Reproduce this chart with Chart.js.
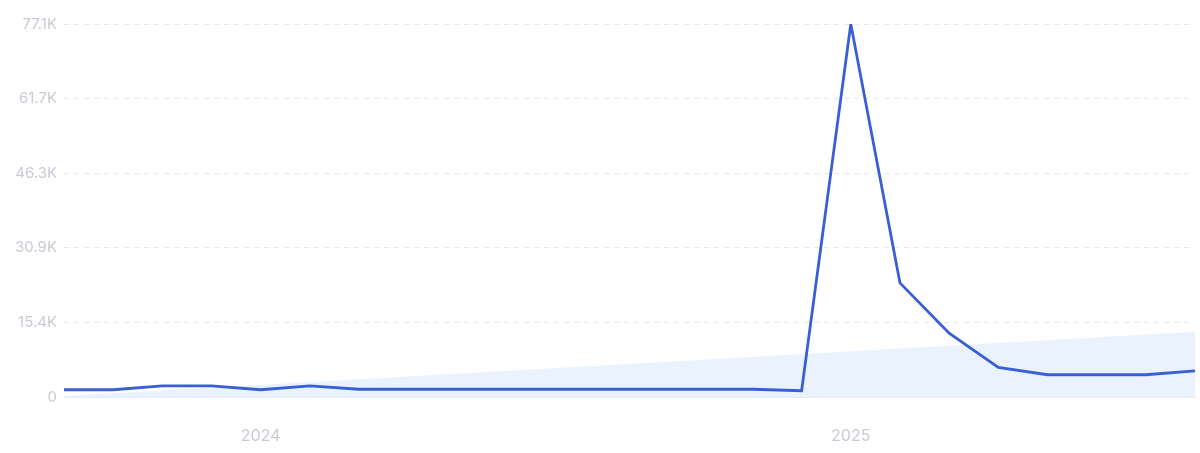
<!DOCTYPE html>
<html>
<head>
<meta charset="utf-8">
<script src="https://cdn.jsdelivr.net/npm/chart.js@4/dist/chart.umd.min.js"></script>
<style>
  html, body { margin: 0; padding: 0; background: #fff; }
  #wrap { width: 1200px; height: 453px; position: relative; }
</style>
</head>
<body>
<div id="wrap"><canvas id="trendChart"></canvas></div>
<script>
// monthly points, Sep 2023 -> Aug 2025
const months = ['2023-09','2023-10','2023-11','2023-12',
  '2024-01','2024-02','2024-03','2024-04','2024-05','2024-06','2024-07','2024-08','2024-09','2024-10','2024-11','2024-12',
  '2025-01','2025-02','2025-03','2025-04','2025-05','2025-06','2025-07','2025-08']
const searches = [1500, 1500, 2300, 2300, 1500, 2300, 1600, 1600, 1600, 1600, 1600, 1600, 1600, 1600, 1600, 1300,
  77140, 23600, 13200, 6100, 4600, 4600, 4600, 5400]
// trend band: only its two ends are read, the line spans the gap
const trendStart = 200
const trendEnd = 13500
const yTickLabels = ['0', '15.4K', '30.9K', '46.3K', '61.7K', '77.1K']
const yMax = 77140

const trend = months.map((m, i) => i === 0 ? trendStart : (i === months.length - 1 ? trendEnd : null))

const data = {
  labels: months,
  datasets: [{
    label: 'Searches',
    data: searches,
    borderColor: '#3a5fd5',
    borderWidth: 2.8,
    pointRadius: 0,
    tension: 0,
    fill: false
  }, {
    label: 'Trend',
    data: trend,
    spanGaps: true,
    borderWidth: 0,
    pointRadius: 0,
    backgroundColor: 'rgba(214, 231, 251, 0.5)',
    fill: 'origin'
  }]
}

const config = {
  type: 'line',
  data: data,
  options: {
    responsive: true,
    maintainAspectRatio: false,
    animation: false,
    layout: { padding: { top: 24, right: 5, left: 0, bottom: 0 } },
    plugins: { legend: { display: false }, tooltip: { enabled: false } },
    scales: {
      x: {
        grid: { display: false, drawTicks: false },
        border: { display: true, color: '#e6ecf6', width: 1 },
        afterFit: scale => {
          scale.height = 56
          scale.paddingLeft = 0
          scale.paddingRight = 0
        },
        ticks: {
          autoSkip: false,
          maxRotation: 0,
          padding: 30,
          color: '#c8cbd2',
          font: { family: 'Inter', size: 16 },
          callback: function (value, index) {
            const m = months[index]
            return m.endsWith('-01') ? m.slice(0, 4) : ''
          }
        }
      },
      y: {
        min: 0,
        max: yMax,
        afterFit: scale => { scale.width = 64 },
        afterBuildTicks: scale => {
          scale.ticks = yTickLabels.map((t, i) => ({ value: yMax / 5 * i }))
        },
        grid: {
          drawTicks: false,
          color: ctx => ctx.index === 0 ? 'rgba(0,0,0,0)' : '#e3e8f1',
          lineWidth: 1
        },
        border: { display: false, dash: [5, 5] },
        ticks: {
          padding: 7,
          color: '#c8cbd2',
          font: { family: 'Inter', size: 15 },
          callback: (value, index) => yTickLabels[index]
        }
      }
    }
  }
}

const trendChart = new Chart(document.getElementById('trendChart').getContext('2d'), config)
</script>
</body>
</html>
